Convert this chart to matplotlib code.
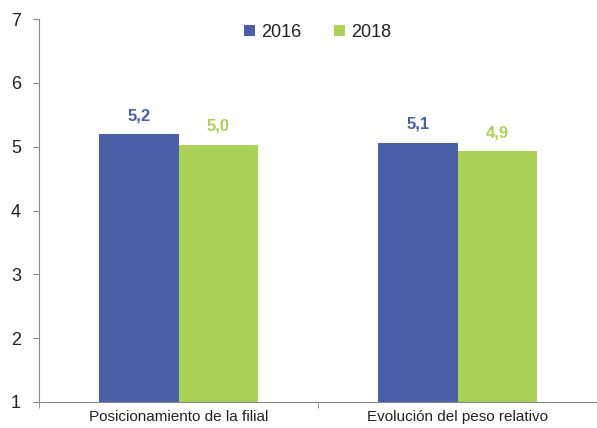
import numpy as np
import matplotlib.pyplot as plt

plt.rcParams['font.family'] = ['Liberation Sans', 'DejaVu Sans']
plt.rcParams['text.color'] = '#222222'
plt.rcParams['xtick.labelcolor'] = '#222222'
plt.rcParams['ytick.labelcolor'] = '#222222'

categories = ["Posicionamiento de la filial", "Evolución del peso relativo"]
years = ["2016", "2018"]
values_2016 = [5.2, 5.06]
values_2018 = [5.03, 4.93]
colors = ["#4b5fa9", "#abd157"]

fig = plt.figure(figsize=(5.97, 4.28), dpi=100)
ax = fig.add_axes([39 / 597, 1 - 402 / 428, 1 - 39 / 597, (402 - 19) / 428])

x = np.arange(len(categories))
w = 0.284
for i, (vals, lab, c) in enumerate(zip([values_2016, values_2018], years, colors)):
    pos = x + (i - 0.5) * w
    ax.bar(pos, np.array(vals) - 1, width=w, bottom=1, color=c, label=lab)
    for p, v in zip(pos, vals):
        ax.text(p, v + 0.17, f"{v:.1f}".replace(".", ","), ha="center", va="bottom",
                color=c, fontsize=12, fontweight="bold")

ax.set_ylim(1, 7)
ax.set_yticks(range(1, 8))
ax.set_xlim(-0.5, 1.486)
ax.set_xticks(x)
ax.set_xticklabels(categories, fontsize=11)
ax.set_xticks([-0.5, 0.5, 1.5], minor=True)
ax.tick_params(axis="x", which="major", length=0, pad=6)
ax.tick_params(axis="x", which="minor", length=4, color="#888888")
ax.tick_params(axis="y", length=4, color="#888888", labelsize=13, pad=9)

for s in ["top", "right"]:
    ax.spines[s].set_visible(False)
for s in ["left", "bottom"]:
    ax.spines[s].set_color("#888888")

ax.legend(loc="upper center", bbox_to_anchor=(0.5, 1.03), ncol=2, frameon=False,
          fontsize=13, handlelength=0.6, handleheight=0.6, columnspacing=1.8,
          handletextpad=0.35)

fig.savefig("out.png", dpi=100)
